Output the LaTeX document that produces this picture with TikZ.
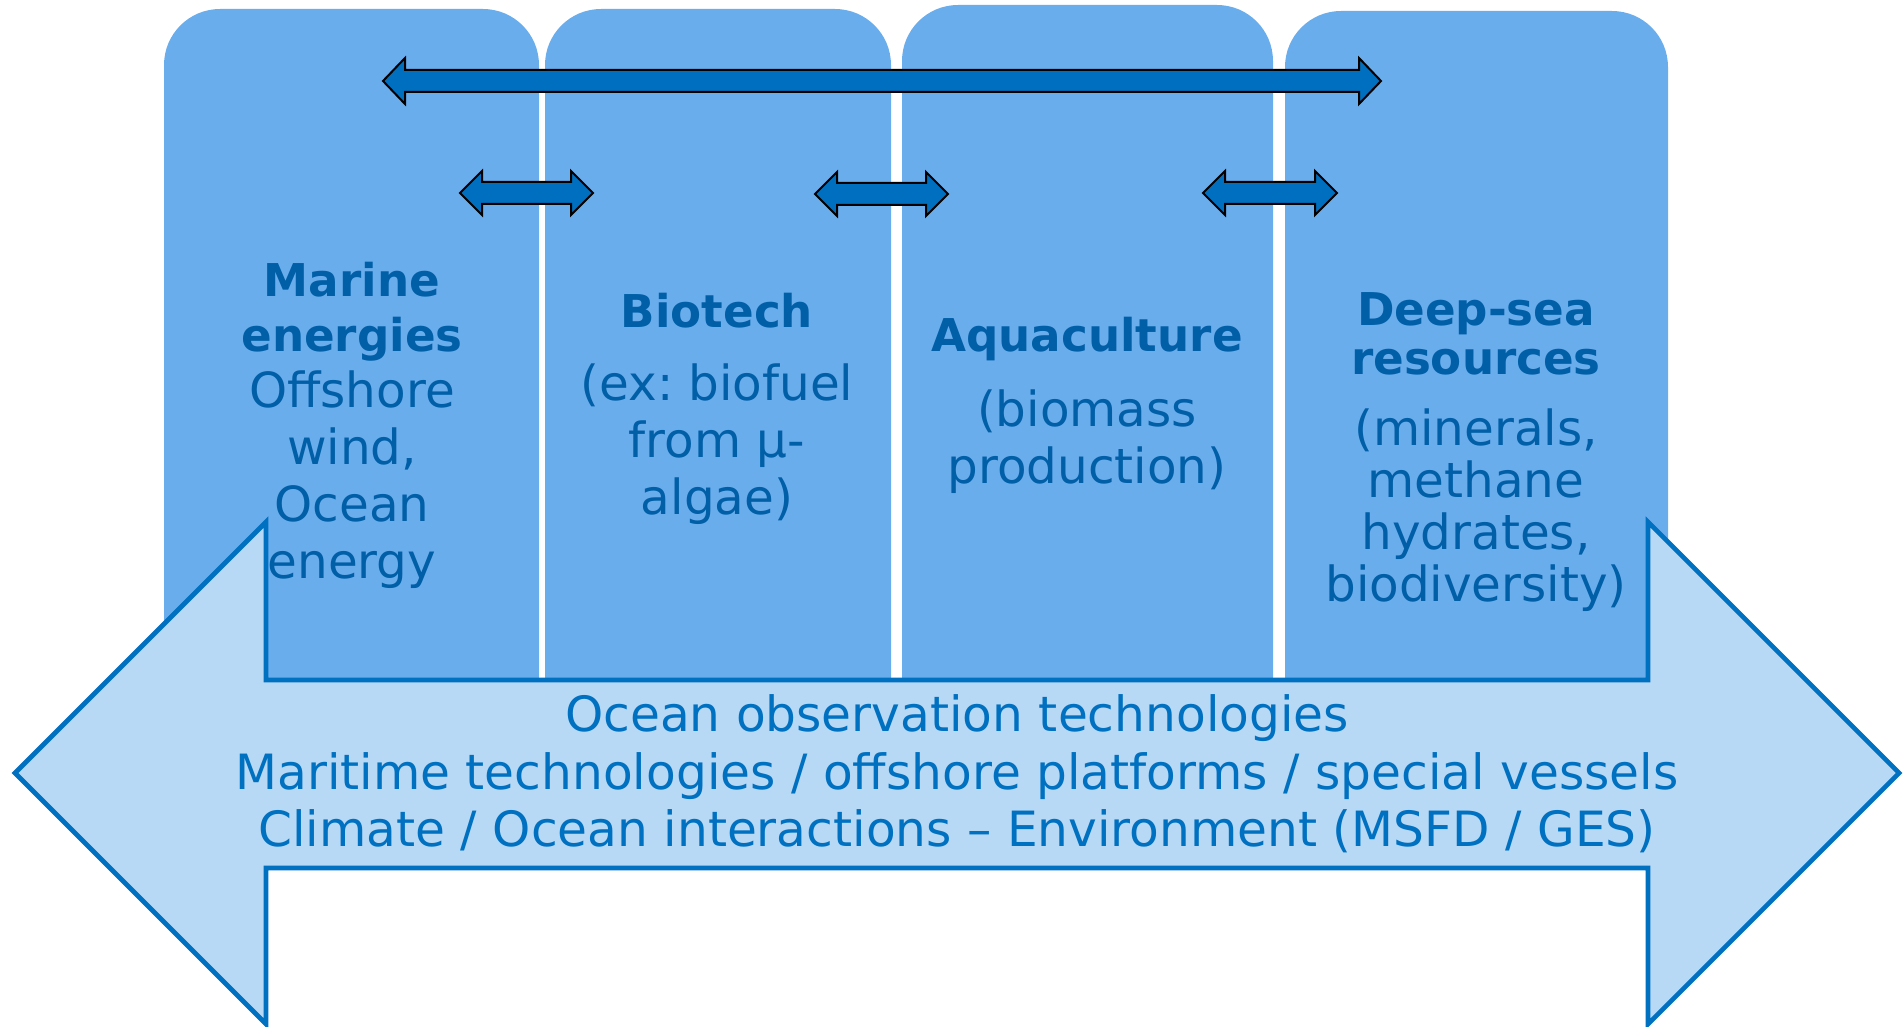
\documentclass[tikz,border=0pt]{standalone}
\usepackage{fontspec}
\setmainfont{DejaVu Sans}
\frenchspacing
\definecolor{colfill}{HTML}{6AADED}
\definecolor{bigfill}{HTML}{B7D9F5}
\definecolor{bigline}{HTML}{0070C0}
\definecolor{coltext}{HTML}{005FA6}
\definecolor{arrfill}{HTML}{006FC0}
\tikzset{
  colbox/.style={fill=colfill, draw=none, rounded corners=28},
  titletxt/.style={text=coltext, align=center, inner sep=0pt, font=\fontsize{22.6}{27.5}\selectfont\bfseries},
  bodytxt/.style={text=coltext, align=center, inner sep=0pt, font=\fontsize{24.2}{28.5}\selectfont},
  bottxt/.style={text=bigline, align=center, inner sep=0pt, font=\fontsize{24.3}{28.7}\selectfont},
  blockarrow/.style={fill=arrfill, draw=black, line width=1pt, line join=miter},
  bigarrow/.style={fill=bigfill, draw=bigline, line width=2.3pt, line join=miter}
}
% #1 left tip x, #2 right tip x, #3 y centre, #4 shaft half, #5 head half, #6 head length
\newcommand{\dblblock}[6]{%
  \draw[blockarrow] (#1,#3) -- (#1+#6,#3-#5) -- (#1+#6,#3-#4) -- (#2-#6,#3-#4) -- (#2-#6,#3-#5)
    -- (#2,#3) -- (#2-#6,#3+#5) -- (#2-#6,#3+#4) -- (#1+#6,#3+#4) -- (#1+#6,#3+#5) -- cycle;}
\begin{document}
\begin{tikzpicture}[x=0.5pt,y=-0.5pt]
\useasboundingbox (0,0) rectangle (1903,1027);
% columns
\fill[colbox] (164,820) -- (164,9) -- (539,9) -- (539,820) -- cycle;
\fill[colbox] (545,820) -- (545,9) -- (891,9) -- (891,820) -- cycle;
\fill[colbox] (902,820) -- (902,5) -- (1273,5) -- (1273,820) -- cycle;
\fill[colbox] (1285,820) -- (1285,11) -- (1668,11) -- (1668,820) -- cycle;
% top block arrows
\dblblock{383}{1381}{81}{11}{23}{22}
\dblblock{460}{593}{193}{11}{22}{22}
\dblblock{815}{948}{194}{11}{22}{22}
\dblblock{1203}{1337}{193}{11}{22}{22}
% column texts
\node[titletxt] (t1) at (352,312) {Marine\\energies};
\node[bodytxt] (b1) at (352,480) {Offshore\\wind,\\Ocean\\energy};
\node[titletxt] (t2) at (717,311) {Biotech};
\node[bodytxt] (b2) at (717,444) {(ex: biofuel\\from µ-\\algae)};
\node[titletxt] (t3) at (1087,339) {Aquaculture};
\node[bodytxt] (b3) at (1087,442) {(biomass\\production)};
\node[titletxt, font=\fontsize{22.6}{24.5}\selectfont\bfseries] (t4) at (1476,334) {Deep-sea\\resources};
\node[bodytxt, font=\fontsize{24.2}{26}\selectfont] (b4) at (1476,510) {(minerals,\\methane\\hydrates,\\biodiversity)};
% big double arrow
\draw[bigarrow] (15,773) -- (266,522) -- (266,680) -- (1648,680) -- (1648,522) -- (1899,773)
  -- (1648,1024) -- (1648,868) -- (266,868) -- (266,1024) -- cycle;
\node[bottxt] (bt) at (957,774) {Ocean observation technologies\\Maritime technologies / offshore platforms / special vessels\\Climate / Ocean interactions – Environment (MSFD / GES)};
\end{tikzpicture}
\end{document}
